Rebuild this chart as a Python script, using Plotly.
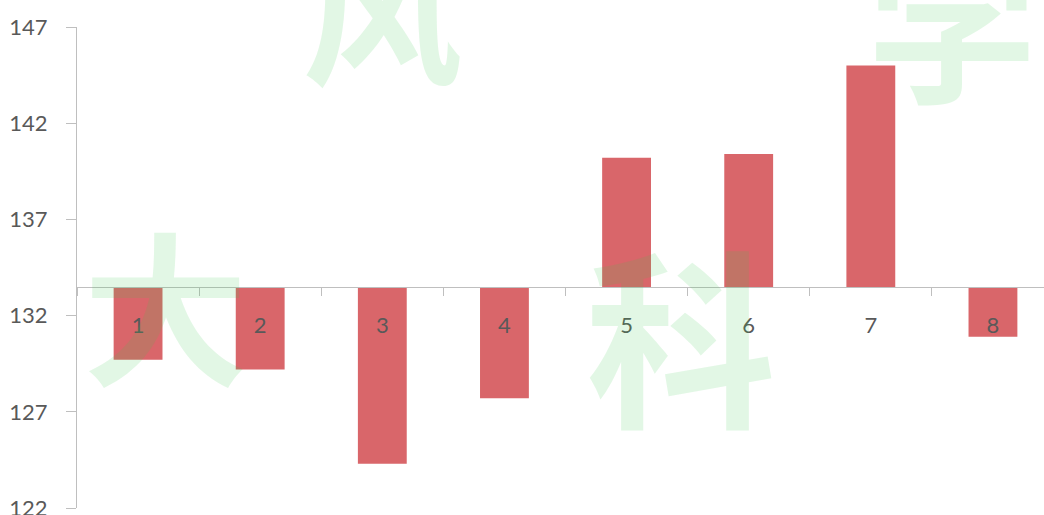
import plotly.graph_objects as go

# Bar chart of eight readings measured against a reference level
categories = ["1", "2", "3", "4", "5", "6", "7", "8"]
values = [129.7, 129.2, 124.3, 127.7, 140.2, 140.4, 145.0, 130.9]
baseline = 133.47

y_min, y_max = 122, 147
y_ticks = [122, 127, 132, 137, 142, 147]

bar_color = "#D9666A"
axis_color = "#BFBFBF"
label_color = "#595959"
font_family = "Lato, 'Open Sans', sans-serif"

fig = go.Figure()
fig.add_trace(go.Bar(
    x=categories,
    y=[v - baseline for v in values],
    base=baseline,
    width=0.4,
    marker=dict(color=bar_color, line=dict(width=0)),
    hoverinfo="skip",
))

# Faint green watermark characters laid over the plot
wm_color = "rgba(60,200,80,0.15)"
watermarks = [
    ("大", 0.092, 0.43, 165),
    ("科", 0.625, 0.37, 190),
    ("学", 0.905, 1.02, 170),
    ("风", 0.315, 1.05, 160),
]
annotations = []
for ch, px, py, size in watermarks:
    annotations.append(dict(
        text=ch, x=px, y=py, xref="paper", yref="paper",
        xanchor="center", yanchor="middle", showarrow=False,
        font=dict(family="Noto Sans CJK SC", size=size, color=wm_color,
                  weight="bold"),
    ))

fig.update_layout(
    width=1044,
    height=515,
    margin=dict(l=77, r=0, t=27, b=7, autoexpand=False),
    paper_bgcolor="white",
    plot_bgcolor="white",
    showlegend=False,
    bargap=0.6,
    font=dict(family=font_family, color=label_color, size=22),
    annotations=annotations,
    xaxis=dict(
        type="category",
        range=[-0.5, 7.418],
        anchor="free",
        position=(baseline - y_min) / (y_max - y_min),
        automargin=False,
        showline=True,
        linecolor=axis_color,
        linewidth=1,
        ticks="outside",
        tickson="boundaries",
        ticklen=8,
        tickcolor=axis_color,
        ticklabelstandoff=18,
        showgrid=False,
        zeroline=False,
        tickfont=dict(size=22, color=label_color),
    ),
    yaxis=dict(
        range=[y_min, y_max],
        tickvals=y_ticks,
        automargin=False,
        showline=True,
        linecolor=axis_color,
        linewidth=1,
        ticks="outside",
        ticklen=10,
        tickcolor=axis_color,
        showgrid=False,
        zeroline=False,
        tickfont=dict(size=22, color=label_color),
        ticklabelstandoff=14,
        ticklabeloverflow="allow",
    ),
)

fig.write_html("out.html")
